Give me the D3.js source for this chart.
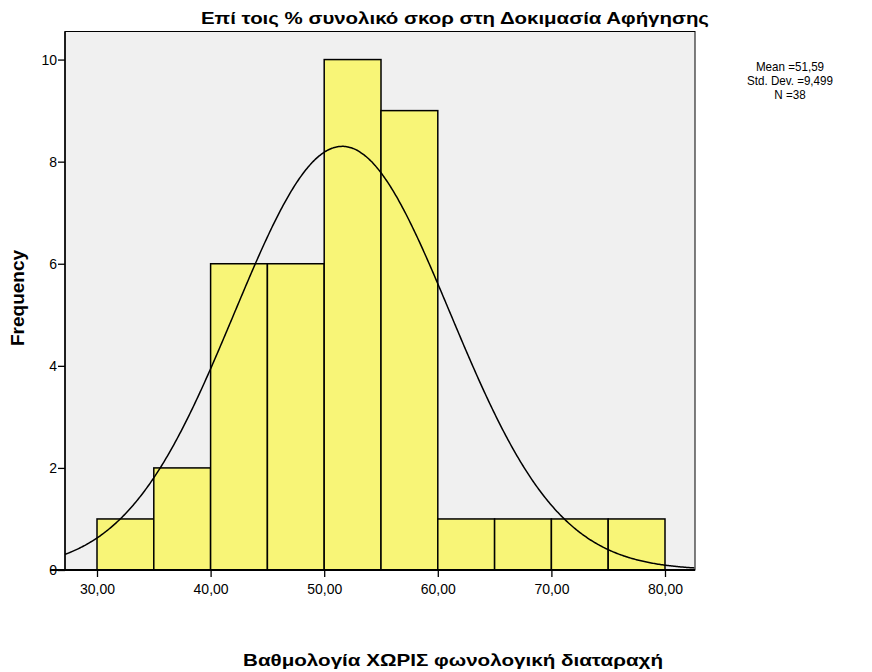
<!DOCTYPE html>
<html><head><meta charset="utf-8">
<script src="https://cdn.jsdelivr.net/npm/d3@7"></script>
<style>body{margin:0;background:#fff}</style>
</head><body>
<svg id="c" width="872" height="672"></svg>
<script>
// ---- data ----
const binStarts = [30, 35, 40, 45, 50, 55, 60, 65, 70, 75];
const binWidth = 5;
const frequencies = [1, 2, 6, 6, 10, 9, 1, 1, 1, 1];
const xTicks = [30, 40, 50, 60, 70, 80];
const xTickLabels = ["30,00", "40,00", "50,00", "60,00", "70,00", "80,00"];
const yTicks = [0, 2, 4, 6, 8, 10];
const statsLines = ["Mean =51,59", "Std. Dev. =9,499", "N =38"];
const mean = 51.59, stdDev = 9.499;
const curvePeak = 8.3;
const titleText = "Επί τοις % συνολικό σκορ στη Δοκιμασία Αφήγησης";
const xLabelText = "Βαθμολογία ΧΩΡΙΣ φωνολογική διαταραχή";
const yLabelText = "Frequency";

// ---- layout ----
const L = 65, R = 695, T = 31.5, B = 570;
const svg = d3.select("#c");
const font = "'Liberation Sans', Arial, sans-serif";

const x = d3.scaleLinear().domain([27.183, 82.641]).range([L, R]);
const y = d3.scaleLinear().domain([0, 10.55]).range([B, T]);

svg.append("rect").attr("x", L).attr("y", T).attr("width", R - L).attr("height", B - T)
  .attr("fill", "#f0f0f0").attr("stroke", "none");

svg.append("defs").append("clipPath").attr("id", "clip")
  .append("rect").attr("x", L).attr("y", T).attr("width", R - L).attr("height", B - T);

// bars
svg.append("g").selectAll("rect").data(binStarts).join("rect")
  .attr("x", (d) => x(d))
  .attr("width", (d) => x(d + binWidth) - x(d))
  .attr("y", (d, i) => y(frequencies[i]))
  .attr("height", (d, i) => y(0) - y(frequencies[i]))
  .attr("fill", "#f8f577")
  .attr("stroke", "#000").attr("stroke-width", 1.5);

// normal curve
const pts = d3.range(x.domain()[0], x.domain()[1] + 0.01, 0.1)
  .map(v => [v, curvePeak * Math.exp(-0.5 * Math.pow((v - mean) / stdDev, 2))]);
svg.append("path").datum(pts)
  .attr("clip-path", "url(#clip)")
  .attr("d", d3.line().x(d => x(d[0])).y(d => y(d[1])).curve(d3.curveBasis))
  .attr("fill", "none").attr("stroke", "#000").attr("stroke-width", 1.5);

// frame
svg.append("rect").attr("x", L).attr("y", T).attr("width", R - L).attr("height", B - T)
  .attr("fill", "none").attr("stroke", "#000").attr("stroke-width", 1);

// axes
const xAxis = svg.append("g").attr("transform", `translate(0,${B})`)
  .call(d3.axisBottom(x).tickValues(xTicks).tickFormat((d, i) => xTickLabels[i]).tickSize(7).tickSizeOuter(0));
xAxis.select(".domain").remove();
xAxis.append("line").attr("x1", 50).attr("x2", R).attr("stroke", "#000").attr("stroke-width", 2);
xAxis.selectAll(".tick line").attr("stroke-width", 1.3);
xAxis.selectAll("text").attr("font-family", font).attr("font-size", 14).attr("fill", "#000").attr("dy", "1.0em");

const yAxis = svg.append("g").attr("transform", `translate(${L},0)`)
  .call(d3.axisLeft(y).tickValues(yTicks).tickSize(7).tickSizeOuter(0));
yAxis.select(".domain").remove();
yAxis.append("line").attr("y1", T).attr("y2", B).attr("stroke", "#000").attr("stroke-width", 1.5);
yAxis.selectAll(".tick line").attr("stroke-width", 1.3);
yAxis.selectAll("text").attr("font-family", font).attr("font-size", 14).attr("fill", "#000").attr("x", -8);

// title
svg.append("text").attr("x", 455).attr("y", 24).attr("text-anchor", "middle")
  .attr("font-family", font).attr("font-weight", "bold").attr("font-size", 16)
  .attr("textLength", 508).attr("lengthAdjust", "spacingAndGlyphs")
  .text(titleText);

// x label
svg.append("text").attr("x", 453).attr("y", 666).attr("text-anchor", "middle")
  .attr("font-family", font).attr("font-weight", "bold").attr("font-size", 17)
  .attr("textLength", 420).attr("lengthAdjust", "spacingAndGlyphs")
  .text(xLabelText);

// y label
svg.append("text").attr("transform", "translate(24,298) rotate(-90)").attr("text-anchor", "middle")
  .attr("font-family", font).attr("font-weight", "bold").attr("font-size", 19)
  .text(yLabelText);

// stats
svg.append("g").selectAll("text").data(statsLines).join("text")
  .attr("x", 790).attr("y", (d, i) => 71 + i * 14).attr("text-anchor", "middle")
  .attr("font-family", font).attr("font-size", 13.5).attr("fill", "#000")
  .text(d => d)
  .each(function () {
    const w = this.getComputedTextLength();
    d3.select(this).attr("textLength", w * 0.86).attr("lengthAdjust", "spacingAndGlyphs");
  });
</script>
</body></html>
